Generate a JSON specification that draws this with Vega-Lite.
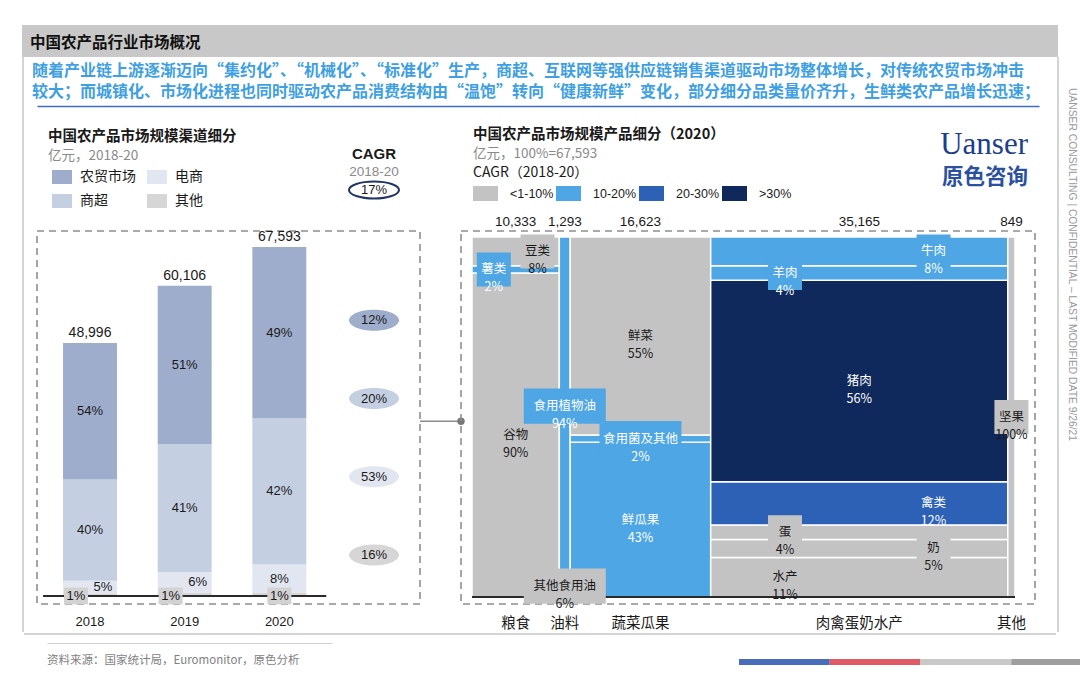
{
  "$schema": "https://vega.github.io/schema/vega-lite/v6.json",
  "background": "white",
  "padding": {"left": 22, "top": 25, "right": 0, "bottom": 0},
  "autosize": {"type": "pad"},
  "config": {
    "view": {"stroke": null},
    "font": "Noto Sans CJK SC",
    "concat": {"spacing": 0},
    "title": {"font": "Noto Sans CJK SC", "subtitleFont": "Noto Sans CJK SC"},
    "axis": {"labelFont": "Noto Sans CJK SC", "titleFont": "Noto Sans CJK SC"},
    "legend": {"labelFont": "Noto Sans CJK SC", "titleFont": "Noto Sans CJK SC"},
    "text": {"font": "Noto Sans CJK SC"}
  },
  "datasets": {
    "channels": [
      {"year": "2018", "channel": "其他", "value": 490, "pct": 1},
      {"year": "2018", "channel": "电商", "value": 2450, "pct": 5},
      {"year": "2018", "channel": "商超", "value": 19598, "pct": 40},
      {"year": "2018", "channel": "农贸市场", "value": 26458, "pct": 54},
      {"year": "2019", "channel": "其他", "value": 606, "pct": 1},
      {"year": "2019", "channel": "电商", "value": 4000, "pct": 6},
      {"year": "2019", "channel": "商超", "value": 24850, "pct": 41},
      {"year": "2019", "channel": "农贸市场", "value": 30650, "pct": 51},
      {"year": "2020", "channel": "其他", "value": 676, "pct": 1},
      {"year": "2020", "channel": "电商", "value": 5407, "pct": 8},
      {"year": "2020", "channel": "商超", "value": 28390, "pct": 42},
      {"year": "2020", "channel": "农贸市场", "value": 33120, "pct": 49}
    ],
    "cagr": [
      {"channel": "合计", "cagr": 17},
      {"channel": "农贸市场", "cagr": 12},
      {"channel": "商超", "cagr": 20},
      {"channel": "电商", "cagr": 53},
      {"channel": "其他", "cagr": 16}
    ],
    "products": [
      {"group": "粮食", "total": 10333, "item": "谷物", "share": 90, "cls": "<1-10%"},
      {"group": "粮食", "total": 10333, "item": "薯类", "share": 2, "cls": "10-20%"},
      {"group": "粮食", "total": 10333, "item": "豆类", "share": 8, "cls": "<1-10%"},
      {"group": "油料", "total": 1293, "item": "其他食用油", "share": 6, "cls": "<1-10%"},
      {"group": "油料", "total": 1293, "item": "食用植物油", "share": 94, "cls": "10-20%"},
      {"group": "蔬菜瓜果", "total": 16623, "item": "鲜瓜果", "share": 43, "cls": "10-20%"},
      {"group": "蔬菜瓜果", "total": 16623, "item": "食用菌及其他", "share": 2, "cls": "10-20%"},
      {"group": "蔬菜瓜果", "total": 16623, "item": "鲜菜", "share": 55, "cls": "<1-10%"},
      {"group": "肉禽蛋奶水产", "total": 35165, "item": "水产", "share": 11, "cls": "<1-10%"},
      {"group": "肉禽蛋奶水产", "total": 35165, "item": "奶", "share": 5, "cls": "<1-10%"},
      {"group": "肉禽蛋奶水产", "total": 35165, "item": "蛋", "share": 4, "cls": "<1-10%"},
      {"group": "肉禽蛋奶水产", "total": 35165, "item": "禽类", "share": 12, "cls": "20-30%"},
      {"group": "肉禽蛋奶水产", "total": 35165, "item": "猪肉", "share": 56, "cls": ">30%"},
      {"group": "肉禽蛋奶水产", "total": 35165, "item": "羊肉", "share": 4, "cls": "10-20%"},
      {"group": "肉禽蛋奶水产", "total": 35165, "item": "牛肉", "share": 8, "cls": "10-20%"},
      {"group": "其他", "total": 849, "item": "坚果", "share": 100, "cls": "<1-10%"}
    ]
  },
  "spacing": 0,
  "resolve": {"scale": {"color": "independent"}, "legend": {"color": "independent"}},
  "vconcat": [
    {
      "width": 1036, "height": 32,
      "data": {"values": []}, "mark": "point",
      "view": {"fill": "#c8c8c8", "stroke": null},
      "title": {"text": "中国农产品行业市场概况", "orient": "top", "anchor": "start", "frame": "group", "offset": -26, "dx": 8, "fontSize": 15.5, "fontWeight": "bold", "color": "#111111"}
    },
    {
      "spacing": 0,
      "resolve": {"scale": {"color": "independent"}, "legend": {"color": "independent"}},
      "hconcat": [
        {"width": 2, "height": 575, "data": {"values": []}, "mark": "point", "view": {"fill": "#d4d4d4", "stroke": null}},
        {
          "spacing": 0,
          "resolve": {"scale": {"color": "independent"}, "legend": {"color": "independent"}},
          "vconcat": [
            {
              "spacing": 0, "bounds": "flush",
              "hconcat": [
                {"width": 13, "height": 49, "data": {"values": []}, "mark": "point"},
                {
                  "width": 1002, "height": 49,
                  "data": {"values": []}, "mark": "point",
                  "encoding": {"x": {"field": "v", "type": "quantitative", "scale": {"domain": [0, 1]}, "axis": {"orient": "bottom", "domain": true, "domainColor": "#3d6cc0", "domainWidth": 1.5, "ticks": false, "labels": false, "grid": false, "title": null}}},
                  "title": {
                    "text": ["随着产业链上游逐渐迈向“集约化”、“机械化”、“标准化”生产，商超、互联网等强供应链销售渠道驱动市场整体增长，对传统农贸市场冲击", "较大；而城镇化、市场化进程也同时驱动农产品消费结构由“温饱”转向“健康新鲜”变化，部分细分品类量价齐升，生鲜类农产品增长迅速；"],
                    "orient": "top", "anchor": "start", "frame": "group", "offset": -43, "dx": -5,
                    "fontSize": 16, "fontWeight": "bold", "color": "#3ea0e2", "lineHeight": 21.5
                  }
                }
              ]
            },
            {"width": 1032, "height": 20, "data": {"values": []}, "mark": "point"},
            {
              "spacing": 0, "bounds": "flush",
              "resolve": {"scale": {"color": "independent"}, "legend": {"color": "independent"}},
              "hconcat": [
                {"width": 13, "height": 373, "data": {"values": []}, "mark": "point"},
                {
                  "width": 383, "height": 373,
                  "view": {"stroke": "#8f8f8f", "strokeWidth": 1.6, "strokeDash": [7, 5]},
                  "title": {"text": "中国农产品市场规模渠道细分", "subtitle": "亿元，2018-20", "orient": "top", "anchor": "start", "frame": "group", "offset": -16, "dx": 11,
                    "fontSize": 14.5, "fontWeight": "bold", "color": "#1a1a1a", "subtitleFontSize": 13.5, "subtitleColor": "#8a8a8a", "subtitlePadding": 4},
                  "resolve": {"scale": {"y": "independent"}},
                  "layer": [
                    {
                      "layer": [
                        {
                          "data": {"name": "channels"},
                          "transform": [
                            {"calculate": "indexof(['其他','电商','商超','农贸市场'], datum.channel)", "as": "rank"},
                            {"stack": "value", "groupby": ["year"], "sort": [{"field": "rank", "order": "ascending"}], "as": ["v0", "v1"]}
                          ],
                          "mark": {"type": "bar"},
                          "encoding": {
                            "x": {"field": "year", "type": "ordinal", "scale": {"type": "band", "domain": ["2018", "2019", "2020", "CAGR"], "range": [0, 390], "paddingInner": 0.43, "paddingOuter": 0.275},
                              "axis": {"orient": "bottom", "title": null, "domain": false, "ticks": false, "grid": false, "labelAngle": 0, "labelPadding": 11, "labelFontSize": 13, "labelColor": "#1a1a1a", "labelFont": "Liberation Sans Narrow, Liberation Sans, sans-serif", "labelExpr": "datum.value == 'CAGR' ? '' : datum.label"}},
                            "y": {"field": "v0", "type": "quantitative", "scale": {"domain": [-1560, 70700], "nice": false, "zero": false}, "axis": null},
                            "y2": {"field": "v1"},
                            "color": {"field": "channel", "type": "nominal",
                              "scale": {"domain": ["农贸市场", "电商", "商超", "其他"], "range": ["#9eadcb", "#e2e6f0", "#c5cfe2", "#d6d6d6"]},
                              "legend": {"orient": "none", "legendX": 15, "legendY": -64, "direction": "horizontal", "columns": 2, "title": null,
                                "symbolType": "M-1,-0.7H1V0.7H-1Z", "symbolSize": 400, "symbolStrokeWidth": 0, "labelFontSize": 14, "labelColor": "#1a1a1a",
                                "labelOffset": 8, "columnPadding": 11, "rowPadding": 7, "padding": 0}}
                          }
                        },
                        {
                          "data": {"values": [{}]},
                          "mark": {"type": "rule", "color": "#2a2a2a", "strokeWidth": 2},
                          "encoding": {
                            "x": {"datum": "2018", "type": "ordinal", "bandPosition": -0.37},
                            "x2": {"datum": "2020", "bandPosition": 1.37},
                            "y": {"datum": 0, "type": "quantitative"}
                          }
                        },
                        {
                          "data": {"name": "channels"},
                          "transform": [
                            {"calculate": "indexof(['其他','电商','商超','农贸市场'], datum.channel)", "as": "rank"},
                            {"calculate": "datum.channel == '电商' ? datum.pct : 0", "as": "ec"},
                            {"joinaggregate": [{"op": "max", "field": "ec", "as": "ecp"}], "groupby": ["year"]},
                            {"stack": "value", "groupby": ["year"], "sort": [{"field": "rank", "order": "ascending"}], "as": ["v0", "v1"]},
                            {"calculate": "(datum.v0 + datum.v1) / 2", "as": "vm"},
                            {"calculate": "datum.pct + '%'", "as": "pl"}
                          ],
                          "layer": [
                            {
                              "transform": [{"filter": "datum.channel == '其他' && datum.ecp < 7"}],
                              "mark": {"type": "point", "shape": "M-1,-0.7H1V0.7H-1Z", "filled": true, "size": 576, "color": "#d2d2d2", "opacity": 1, "strokeWidth": 0},
                              "encoding": {"x": {"field": "year", "type": "ordinal", "bandPosition": 0.24}, "y": {"field": "v0", "type": "quantitative"}}
                            },
                            {
                              "transform": [{"filter": "datum.channel == '其他' && datum.ecp >= 7"}],
                              "mark": {"type": "point", "shape": "M-1,-0.7H1V0.7H-1Z", "filled": true, "size": 576, "color": "#d2d2d2", "opacity": 1, "strokeWidth": 0},
                              "encoding": {"x": {"field": "year", "type": "ordinal", "bandPosition": 0.5}, "y": {"field": "v0", "type": "quantitative"}}
                            },
                            {
                              "transform": [{"filter": "datum.channel == '农贸市场' || datum.channel == '商超' || (datum.channel == '电商' && datum.pct >= 7)"}],
                              "mark": {"type": "text", "fontSize": 13, "color": "#1a1a1a", "font": "Liberation Sans Narrow, Liberation Sans, sans-serif"},
                              "encoding": {"x": {"field": "year", "type": "ordinal", "bandPosition": 0.5}, "y": {"field": "vm", "type": "quantitative"}, "text": {"field": "pl"}}
                            },
                            {
                              "transform": [{"filter": "datum.channel == '电商' && datum.pct < 7"}],
                              "mark": {"type": "text", "fontSize": 13, "color": "#1a1a1a", "font": "Liberation Sans Narrow, Liberation Sans, sans-serif"},
                              "encoding": {"x": {"field": "year", "type": "ordinal", "bandPosition": 0.74}, "y": {"field": "vm", "type": "quantitative"}, "text": {"field": "pl"}}
                            },
                            {
                              "transform": [{"filter": "datum.channel == '其他' && datum.ecp < 7"}],
                              "mark": {"type": "text", "fontSize": 13, "color": "#1a1a1a", "font": "Liberation Sans Narrow, Liberation Sans, sans-serif"},
                              "encoding": {"x": {"field": "year", "type": "ordinal", "bandPosition": 0.24}, "y": {"field": "v0", "type": "quantitative"}, "text": {"field": "pl"}}
                            },
                            {
                              "transform": [{"filter": "datum.channel == '其他' && datum.ecp >= 7"}],
                              "mark": {"type": "text", "fontSize": 13, "color": "#1a1a1a", "font": "Liberation Sans Narrow, Liberation Sans, sans-serif"},
                              "encoding": {"x": {"field": "year", "type": "ordinal", "bandPosition": 0.5}, "y": {"field": "v0", "type": "quantitative"}, "text": {"field": "pl"}}
                            }
                          ]
                        },
                        {
                          "data": {"name": "channels"},
                          "transform": [{"aggregate": [{"op": "sum", "field": "value", "as": "tot"}], "groupby": ["year"]}],
                          "mark": {"type": "text", "fontSize": 14, "dy": -10, "color": "#1a1a1a", "font": "Liberation Sans Narrow, Liberation Sans, sans-serif"},
                          "encoding": {
                            "x": {"field": "year", "type": "ordinal"},
                            "y": {"field": "tot", "type": "quantitative"},
                            "text": {"field": "tot", "type": "quantitative", "format": ","}
                          }
                        }
                      ]
                    },
                    {
                      "data": {"name": "cagr"},
                      "transform": [{"calculate": "datum.cagr + '%'", "as": "cl"}],
                      "encoding": {
                        "x": {"datum": "CAGR", "type": "ordinal"},
                        "y": {"field": "channel", "type": "nominal", "scale": {"type": "point", "domain": ["合计", "农贸市场", "商超", "电商", "其他"], "range": [11, 324], "padding": 0}, "axis": null}
                      },
                      "layer": [
                        {
                          "transform": [{"filter": "datum.channel != '合计'"}],
                          "mark": {"type": "point", "shape": "M-1,0A1,0.42,0,1,0,1,0A1,0.42,0,1,0,-1,0Z", "filled": true, "size": 2500, "opacity": 1, "strokeWidth": 0},
                          "encoding": {"color": {"field": "channel", "type": "nominal"}}
                        },
                        {
                          "transform": [{"filter": "datum.channel == '合计'"}],
                          "mark": {"type": "point", "shape": "M-1,0A1,0.34,0,1,0,1,0A1,0.34,0,1,0,-1,0Z", "filled": true, "fill": "white", "stroke": "#1f3566", "strokeWidth": 2, "size": 2500, "opacity": 1},
                          "encoding": {"yOffset": {"value": -52}}
                        },
                        {
                          "transform": [{"filter": "datum.channel != '合计'"}],
                          "mark": {"type": "text", "fontSize": 13, "color": "#1a1a1a", "font": "Liberation Sans Narrow, Liberation Sans, sans-serif"},
                          "encoding": {"text": {"field": "cl"}}
                        },
                        {
                          "transform": [{"filter": "datum.channel == '合计'"}],
                          "mark": {"type": "text", "fontSize": 13, "color": "#1a1a1a", "font": "Liberation Sans Narrow, Liberation Sans, sans-serif"},
                          "encoding": {"text": {"field": "cl"}, "yOffset": {"value": -52}}
                        },
                        {
                          "transform": [{"filter": "datum.channel == '合计'"}],
                          "mark": {"type": "text", "text": "CAGR", "fontSize": 15, "fontWeight": "bold", "color": "#1a1a1a", "font": "Liberation Sans, sans-serif"},
                          "encoding": {"yOffset": {"value": -88}}
                        },
                        {
                          "transform": [{"filter": "datum.channel == '合计'"}],
                          "mark": {"type": "text", "text": "2018-20", "fontSize": 13.5, "color": "#8a8a8a", "font": "Liberation Sans, sans-serif"},
                          "encoding": {"yOffset": {"value": -70}}
                        }
                      ]
                    }
                  ]
                },
                {
                  "width": 41, "height": 373,
                  "data": {"values": [{"p": 0}, {"p": 1}]},
                  "encoding": {
                    "x": {"field": "p", "type": "quantitative", "scale": {"domain": [0, 1], "nice": false}, "axis": null},
                    "y": {"datum": 0.49, "type": "quantitative", "scale": {"domain": [0, 1]}, "axis": null}
                  },
                  "layer": [
                    {"mark": {"type": "line", "color": "#8c8c8c", "strokeWidth": 1.5}, "encoding": {}},
                    {"transform": [{"filter": "datum.p == 1"}], "mark": {"type": "point", "filled": true, "color": "#777777", "size": 55, "opacity": 1}}
                  ]
                },
                {
                  "width": 574, "height": 373,
                  "view": {"stroke": "#8f8f8f", "strokeWidth": 1.6, "strokeDash": [7, 5]},
                  "title": {"text": "中国农产品市场规模产品细分（2020）", "subtitle": "亿元，100%=67,593", "orient": "top", "anchor": "start", "frame": "group", "offset": 5, "dx": 12,
                    "fontSize": 14.5, "fontWeight": "bold", "color": "#1a1a1a", "subtitleFontSize": 13.5, "subtitleColor": "#8a8a8a", "subtitlePadding": 4},
                  "data": {"name": "products"},
                  "transform": [
                    {"calculate": "indexof(['谷物','薯类','豆类','其他食用油','食用植物油','鲜瓜果','食用菌及其他','鲜菜','水产','奶','蛋','禽类','猪肉','羊肉','牛肉','坚果'], datum.item)", "as": "iord"},
                    {"joinaggregate": [{"op": "min", "field": "iord", "as": "fi"}], "groupby": ["group"]},
                    {"calculate": "datum.iord == datum.fi ? datum.total : 0", "as": "tf"},
                    {"window": [{"op": "sum", "field": "tf", "as": "cx1"}], "sort": [{"field": "iord", "order": "ascending"}], "frame": [null, 0]},
                    {"calculate": "datum.cx1 - datum.total", "as": "cx0"},
                    {"stack": "share", "groupby": ["group"], "sort": [{"field": "iord", "order": "ascending"}], "as": ["sy0", "sy1"]},
                    {"calculate": "indexof(['薯类','羊肉','蛋','水产'], datum.item) >= 0 ? 0.25 : (indexof(['豆类','牛肉','禽类','奶'], datum.item) >= 0 ? 0.75 : 0.5)", "as": "fr"},
                    {"calculate": "datum.cx0 + datum.fr * datum.total", "as": "lx"},
                    {"calculate": "(datum.sy0 + datum.sy1) / 2", "as": "ly"},
                    {"calculate": "(datum.cx0 + datum.cx1) / 2", "as": "gx"},
                    {"calculate": "[datum.item, datum.share + '%']", "as": "lbl"},
                    {"calculate": "(datum.share < 10 || datum.total < 2000) ? (length(datum.item) > 3 ? 'L' : 'S') : 'N'", "as": "box"}
                  ],
                  "layer": [
                    {
                      "mark": {"type": "rect", "stroke": "white", "strokeWidth": 1.5},
                      "encoding": {
                        "x": {"field": "cx0", "type": "quantitative", "scale": {"domain": [-1302, 66629], "nice": false, "zero": false}, "axis": null},
                        "x2": {"field": "cx1"},
                        "y": {"field": "sy0", "type": "quantitative", "scale": {"domain": [-1.94, 101.67], "nice": false, "zero": false}, "axis": null},
                        "y2": {"field": "sy1"},
                        "color": {"field": "cls", "type": "nominal",
                          "scale": {"domain": ["<1-10%", "10-20%", "20-30%", ">30%"], "range": ["#c3c3c3", "#4ea6e4", "#2c61b5", "#0f295c"]},
                          "legend": {"orient": "none", "legendX": 12, "legendY": -65, "direction": "horizontal", "title": "CAGR（2018-20）",
                            "titleFontSize": 14, "titleFontWeight": "normal", "titleColor": "#1a1a1a", "titlePadding": 1,
                            "symbolType": "M-1,-0.6H1V0.6H-1Z", "symbolSize": 625, "symbolStrokeWidth": 0,
                            "labelFont": "Liberation Sans, sans-serif", "labelFontSize": 12.5, "labelColor": "#1a1a1a", "labelOffset": 12, "columnPadding": 2, "padding": 0}}
                      }
                    },
                    {
                      "transform": [{"aggregate": [{"op": "min", "field": "cx0", "as": "a"}, {"op": "max", "field": "cx1", "as": "b"}]}],
                      "mark": {"type": "rule", "color": "#2a2a2a", "strokeWidth": 2},
                      "encoding": {"x": {"field": "a", "type": "quantitative"}, "x2": {"field": "b"}, "y": {"datum": 0, "type": "quantitative"}}
                    },
                    {
                      "transform": [{"filter": "datum.box == 'S'"}],
                      "mark": {"type": "point", "shape": "square", "filled": true, "size": 1156, "opacity": 1, "strokeWidth": 0},
                      "encoding": {"x": {"field": "lx", "type": "quantitative"}, "y": {"field": "ly", "type": "quantitative"}, "color": {"field": "cls", "type": "nominal"}}
                    },
                    {
                      "transform": [{"filter": "datum.box == 'L'"}],
                      "mark": {"type": "point", "shape": "M-1,-0.43H1V0.43H-1Z", "filled": true, "size": 6724, "opacity": 1, "strokeWidth": 0},
                      "encoding": {"x": {"field": "lx", "type": "quantitative"}, "y": {"field": "ly", "type": "quantitative"}, "color": {"field": "cls", "type": "nominal"}}
                    },
                    {
                      "mark": {"type": "text", "fontSize": 12.5, "lineHeight": 18},
                      "encoding": {
                        "x": {"field": "lx", "type": "quantitative"},
                        "y": {"field": "ly", "type": "quantitative"},
                        "text": {"field": "lbl"},
                        "color": {"condition": {"test": "datum.cls == '<1-10%'", "value": "#1a1a1a"}, "value": "#ffffff"}
                      }
                    },
                    {
                      "transform": [{"filter": "datum.iord == datum.fi"}],
                      "mark": {"type": "text", "fontSize": 13.5, "dy": -15, "color": "#1a1a1a", "font": "Liberation Sans Narrow, Liberation Sans, sans-serif"},
                      "encoding": {"x": {"field": "gx", "type": "quantitative"}, "y": {"datum": 100, "type": "quantitative"}, "text": {"field": "total", "type": "quantitative", "format": ","}}
                    },
                    {
                      "transform": [{"filter": "datum.iord == datum.fi"}],
                      "mark": {"type": "text", "fontSize": 14.5, "dy": 27, "color": "#1a1a1a"},
                      "encoding": {"x": {"field": "gx", "type": "quantitative"}, "y": {"datum": 0, "type": "quantitative"}, "text": {"field": "group"}}
                    }
                  ]
                },
                {
                  "width": 1, "height": 373,
                  "data": {"values": []}, "mark": "point",
                  "title": {"text": "Uanser", "subtitle": "原色咨询", "orient": "top", "anchor": "end", "frame": "group", "offset": 42, "dx": -8,
                    "font": "Liberation Serif", "fontSize": 31, "fontWeight": "normal", "color": "#1d3d8f",
                    "subtitleFont": "Noto Sans CJK SC", "subtitleFontSize": 21.5, "subtitleFontWeight": "bold", "subtitleColor": "#2a50a0", "subtitlePadding": 6}
                }
              ]
            },
            {"width": 1032, "height": 1, "data": {"values": []}, "mark": "point"},
            {"width": 1032, "height": 2, "data": {"values": []}, "mark": "point", "view": {"fill": "#d4d4d4", "stroke": null}}
          ]
        },
        {
          "width": 2, "height": 575, "data": {"values": []}, "mark": "point", "view": {"fill": "#d4d4d4", "stroke": null},
          "title": {"text": "UANSER CONSULTING  |  CONFIDENTIAL – LAST MODIFIED DATE 9/26/21", "orient": "right", "anchor": "start", "frame": "group", "offset": 8, "dx": 31, "fontSize": 10.3, "fontWeight": "normal", "color": "#9a9a9a", "font": "Liberation Sans, sans-serif"}
        }
      ]
    },
    {
      "spacing": 0, "bounds": "flush",
      "resolve": {"scale": {"color": "independent"}, "legend": {"color": "independent"}},
      "hconcat": [
        {"width": 25, "height": 30, "data": {"values": []}, "mark": "point"},
        {
          "width": 285, "height": 30,
          "data": {"values": []}, "mark": "point",
          "encoding": {"x": {"field": "v", "type": "quantitative", "scale": {"domain": [0, 1]}, "axis": {"orient": "top", "offset": -8, "domain": true, "domainColor": "#d0d0d0", "domainWidth": 1, "ticks": false, "labels": false, "grid": false, "title": null}}},
          "title": {"text": "资料来源：国家统计局，Euromonitor，原色分析", "orient": "bottom", "anchor": "start", "frame": "group", "offset": -10, "fontSize": 11.5, "fontWeight": "normal", "color": "#7f7f7f"}
        },
        {"width": 407, "height": 30, "data": {"values": []}, "mark": "point"},
        {
          "width": 363, "height": 30,
          "data": {"values": [{"s": "a"}, {"s": "b"}, {"s": "c"}, {"s": "d"}]},
          "mark": {"type": "rect"},
          "encoding": {
            "x": {"field": "s", "type": "nominal", "scale": {"type": "band", "paddingInner": 0, "paddingOuter": 0}, "axis": null},
            "y": {"datum": 0, "type": "quantitative", "scale": {"domain": [0, 5]}, "axis": null},
            "y2": {"datum": 1},
            "color": {"field": "s", "type": "nominal", "scale": {"range": ["#4a6cbd", "#e05a66", "#c8c8c8", "#9e9e9e"]}, "legend": null}
          }
        }
      ]
    }
  ]
}
